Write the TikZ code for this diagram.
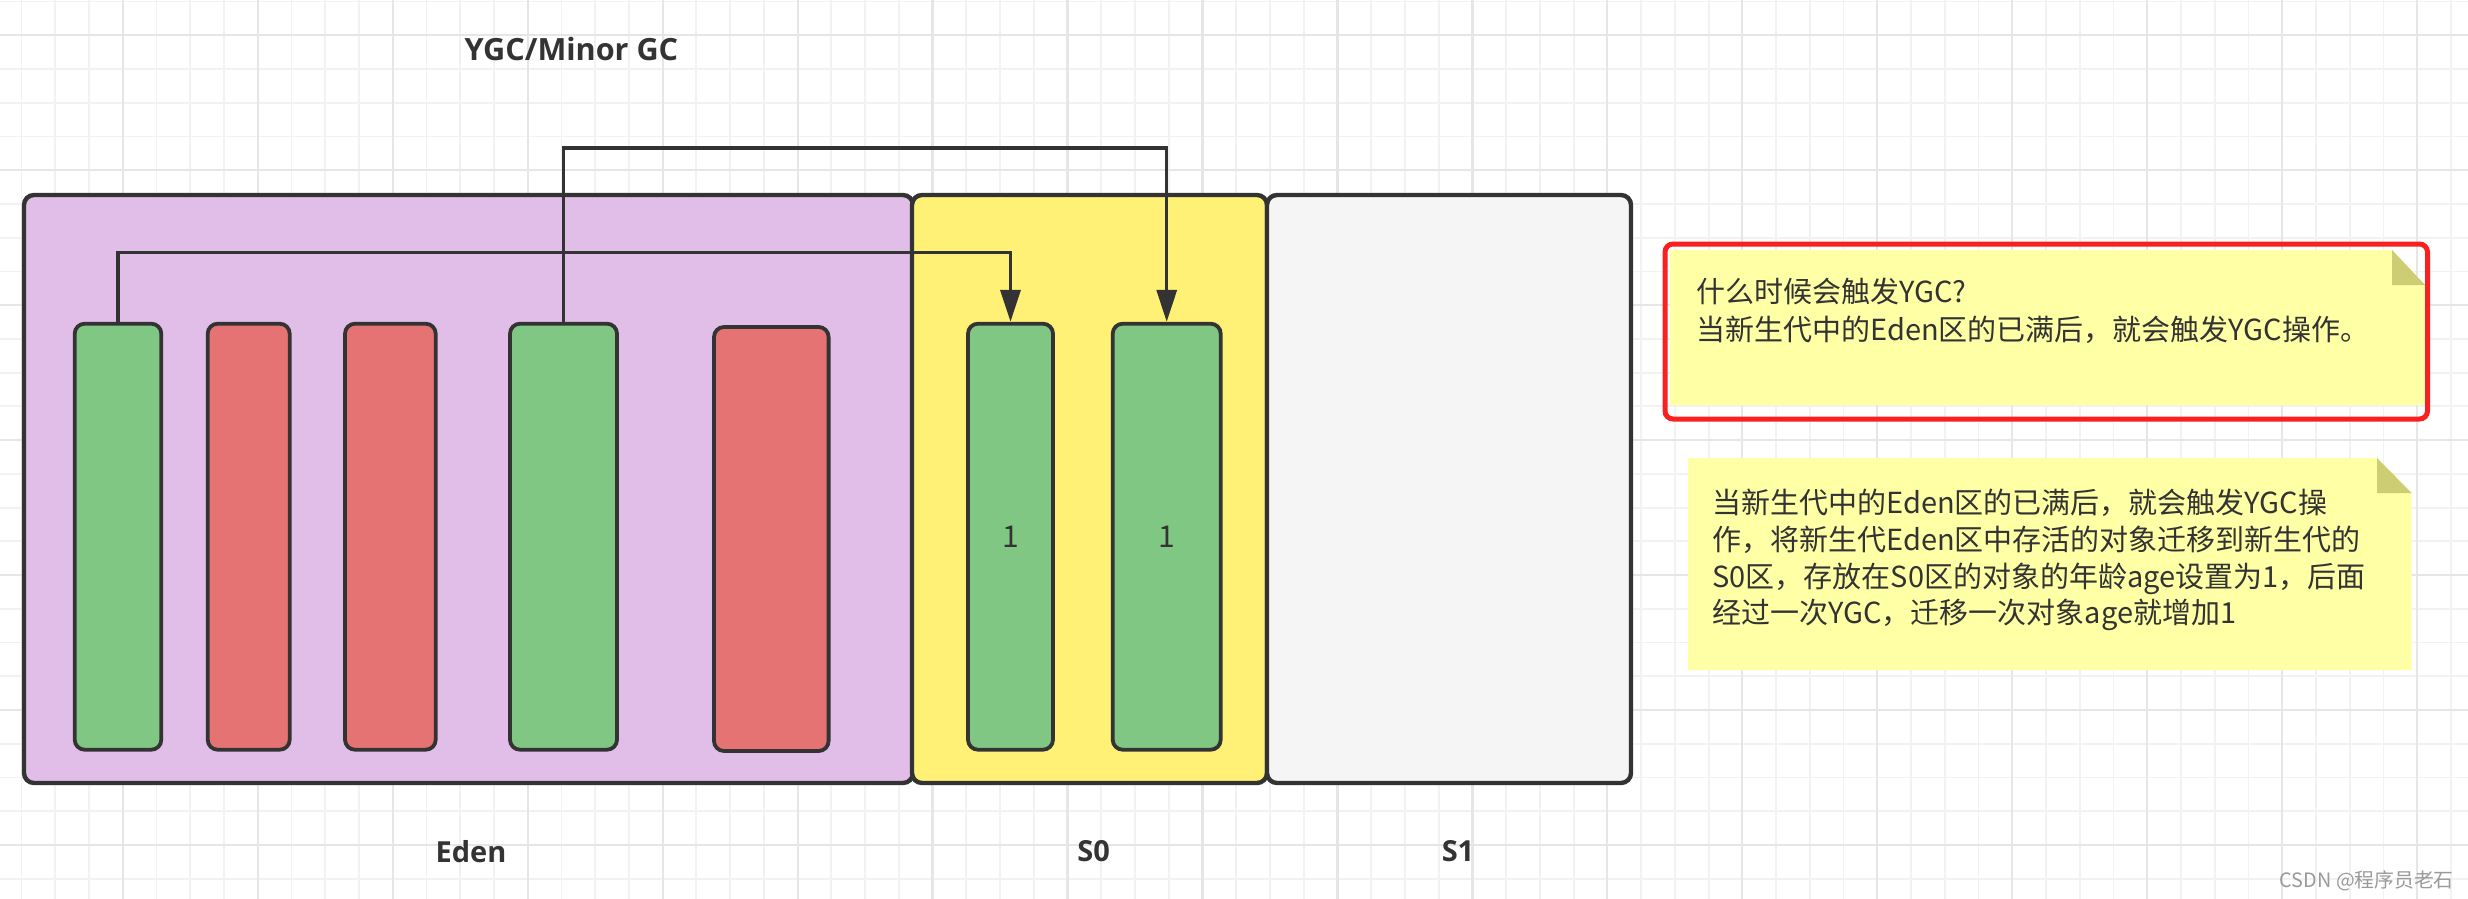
\documentclass[tikz,border=0pt]{standalone}
\usepackage{fontspec}
\setmainfont{Open Sans}
\newfontfamily\cjk{Noto Sans CJK SC}
\usetikzlibrary{arrows.meta}
\definecolor{edge}{HTML}{333333}
\definecolor{edenfill}{HTML}{E1BEE7}
\definecolor{sofill}{HTML}{FFF176}
\definecolor{sonefill}{HTML}{F5F5F5}
\definecolor{livefill}{HTML}{81C784}
\definecolor{deadfill}{HTML}{E57373}
\definecolor{notefill}{HTML}{FFFFA6}
\definecolor{notefold}{HTML}{CDCD74}
\definecolor{alertred}{HTML}{FA2020}
\definecolor{gridmin}{HTML}{F2F2F2}
\definecolor{gridmaj}{HTML}{E6E6E6}
\definecolor{wmark}{HTML}{9A9A9A}
\begin{document}
\begin{tikzpicture}[x=0.5pt,y=-0.5pt,
  region/.style={draw=edge,line width=2.2pt,rounded corners=5pt,inner sep=0pt,minimum height=294pt},
  obj/.style={draw=edge,line width=1.9pt,rounded corners=5pt,inner sep=0pt,minimum height=213pt,
    font=\cjk\fontsize{15}{18}\selectfont,text=edge},
  live/.style={obj,fill=livefill},
  dead/.style={obj,fill=deadfill},
  conn/.style={draw=edge,line width=1.75pt,-{Triangle[length=16pt,width=10pt]}},
  lbl/.style={font=\bfseries\fontsize{14.5}{17}\selectfont,text=edge,inner sep=0pt},
  ntxt/.style={font=\cjk\fontsize{14.5}{17}\selectfont,text=edge,inner sep=0pt,anchor=base west},
  gridminor/.style={draw=gridmin,line width=0.9pt},
  gridmajor/.style={draw=gridmaj,line width=1.1pt},
]
\useasboundingbox (0,0) rectangle (2468,899);
\fill[white] (0,0) rectangle (2468,899);
% background grid
\foreach \i in {0,...,73} \draw[gridminor] ({-12.15+33.74*\i},0) -- ({-12.15+33.74*\i},899);
\foreach \j in {0,...,26} \draw[gridminor] (0,{1.51+33.74*\j}) -- (2468,{1.51+33.74*\j});
\foreach \i in {0,...,18} \draw[gridmajor] ({-12.15+134.96*\i},0) -- ({-12.15+134.96*\i},899);
\foreach \j in {0,...,6} \draw[gridmajor] (0,{35.25+134.96*\j}) -- (2468,{35.25+134.96*\j});

% regions
\node[region,fill=edenfill,minimum width=444.5pt] (eden) at (468.5,489) {};
\node[region,fill=sofill,minimum width=177.5pt] (szero) at (1089.5,489) {};
\node[region,fill=sonefill,minimum width=182pt] (sone) at (1449,489) {};

% objects
\node[live,minimum width=43.3pt] (ga) at (118,536.7) {};
\node[dead,minimum width=41pt] (rb) at (248.7,536.7) {};
\node[dead,minimum width=45.35pt] (rc) at (390.35,536.7) {};
\node[live,minimum width=53.5pt] (gd) at (563.5,536.7) {};
\node[dead,minimum width=57.3pt,minimum height=212pt] (re) at (771.3,539) {};
\node[live,minimum width=42.5pt] (sa) at (1010.5,536.7) {1};
\node[live,minimum width=54pt] (sb) at (1166.7,536.7) {1};

% connectors
\coordinate (lowlane) at (0,252.7);
\coordinate (highlane) at (0,148);
\draw[conn] (ga.north) -- (ga.north |- lowlane) -| (sa.north);
\draw[conn] (gd.north) -- (gd.north |- highlane) -| (sb.north);

% labels
\node[lbl,font=\bfseries\fontsize{15.3}{18}\selectfont] (title) at (571.5,49) {YGC/Minor GC};
\node[lbl] (edenlbl) at (471,852) {Eden};
\node[lbl] (s0lbl) at (1093.7,851) {S0};
\node[lbl] (s1lbl) at (1458,851) {S1};

% note 1
\fill[notefill] (1670,250) -- (2392,250) -- (2425,285) -- (2425,405) -- (1670,405) -- cycle;
\fill[notefold] (2392,250) -- (2392,285) -- (2425,285) -- cycle;
\draw[alertred,line width=2.5pt,rounded corners=4pt] (1665,244) rectangle (2427.5,419);
\node[ntxt] (qa) at (1696,302) {什么时候会触发YGC?};
\node[ntxt] (qb) at (1696,340) {当新生代中的Eden区的已满后，就会触发YGC操作。};

% note 2
\fill[notefill] (1688,458) -- (2377,458) -- (2411.5,493) -- (2411.5,670) -- (1688,670) -- cycle;
\fill[notefold] (2377,458) -- (2377,493) -- (2411.5,493) -- cycle;
\node[ntxt] (da) at (1712,513) {当新生代中的Eden区的已满后，就会触发YGC操};
\node[ntxt] (db) at (1712,550) {作，将新生代Eden区中存活的对象迁移到新生代的};
\node[ntxt] (dc) at (1712,587) {S0区，存放在S0区的对象的年龄age设置为1，后面};
\node[ntxt] (dd) at (1712,623) {经过一次YGC，迁移一次对象age就增加1};

% watermark
\node[font=\cjk\fontsize{9.9}{12}\selectfont,text=wmark,inner sep=0pt] (wm) at (2366.7,881) {CSDN @程序员老石};
\end{tikzpicture}
\end{document}
